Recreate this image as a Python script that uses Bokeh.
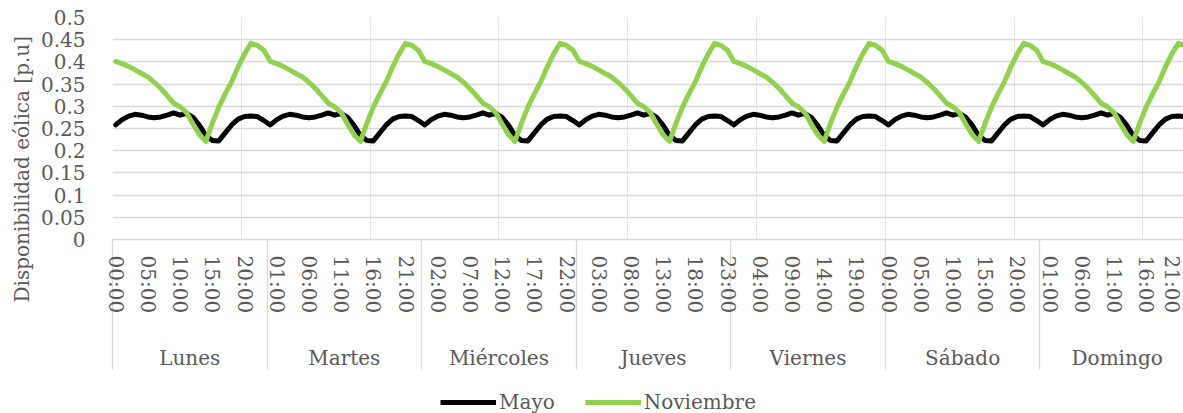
from bokeh.plotting import figure
from bokeh.layouts import column
from bokeh.models import Range1d, FixedTicker, LinearAxis, Legend, LegendItem, Title
from bokeh.embed import file_html
from bokeh.resources import INLINE

# ---------------- data ----------------
dias = ["Lunes", "Martes", "Miércoles", "Jueves", "Viernes", "Sábado", "Domingo"]

# hourly profile (00:00 .. 23:00), identical every day of the week
mayo_dia = [0.258, 0.270, 0.278, 0.282, 0.280, 0.276, 0.274, 0.276, 0.280, 0.285,
            0.280, 0.284, 0.275, 0.257, 0.234, 0.223, 0.222, 0.240, 0.258, 0.271,
            0.277, 0.278, 0.277, 0.268]
noviembre_dia = [0.401, 0.396, 0.390, 0.382, 0.374, 0.366, 0.354, 0.340, 0.324, 0.307,
                 0.299, 0.286, 0.260, 0.236, 0.221, 0.262, 0.298, 0.328, 0.355, 0.389,
                 0.418, 0.442, 0.437, 0.426]

hora_labels = ["00:00", "05:00", "10:00", "15:00", "20:00",
               "01:00", "06:00", "11:00", "16:00", "21:00",
               "02:00", "07:00", "12:00", "17:00", "22:00",
               "03:00", "08:00", "13:00", "18:00", "23:00",
               "04:00", "09:00", "14:00", "19:00",
               "00:00", "05:00", "10:00", "15:00", "20:00",
               "01:00", "06:00", "11:00", "16:00", "21:00"]

y_ticks = [0, 0.05, 0.1, 0.15, 0.2, 0.25, 0.3, 0.35, 0.4, 0.45, 0.5]
y_labels = ["0", "0.05", "0.1", "0.15", "0.2", "0.25", "0.3", "0.35", "0.4", "0.45", "0.5"]

series_names = ["Mayo", "Noviembre"]
series_colors = ["#000000", "#92d050"]

# ---------------- series ----------------
mayo = mayo_dia * len(dias)
noviembre = noviembre_dia * len(dias)
series_values = [mayo, noviembre]
n = len(mayo)
x = [i + 0.5 for i in range(n)]                     # category centres
hora_pos = [i + 0.5 for i in range(0, n, 5)][:len(hora_labels)]
sep_pos = [24 * k for k in range(len(dias) + 1)]    # day boundaries
dia_pos = [24 * k + 12 for k in range(len(dias))]   # day centres

FONT = "DejaVu Serif"
GRAY = "#595959"
GRID = "#d9d9d9"
SEP_LEN = 130
W = 1183

p = figure(width=W, height=372,
           x_range=Range1d(0, 166.3), y_range=Range1d(0, 0.5),
           output_backend="svg", toolbar_location=None,
           x_axis_location=None, y_axis_location="left",
           min_border_left=112, min_border_right=0,
           min_border_top=17, min_border_bottom=130)
p.outline_line_color = None
p.background_fill_color = "white"
p.border_fill_color = "white"

# y axis
ya = p.yaxis[0]
ya.ticker = FixedTicker(ticks=y_ticks)
ya.major_label_overrides = dict(zip(y_ticks, y_labels))
ya.major_label_text_font = FONT
ya.major_label_text_font_size = "20px"
ya.major_label_text_color = GRAY
ya.major_label_standoff = 21
ya.axis_line_color = None
ya.major_tick_line_color = None
ya.minor_tick_line_color = None
p.ygrid.ticker = FixedTicker(ticks=y_ticks)
p.ygrid.grid_line_color = GRID
p.ygrid.grid_line_width = 1.3

ytitle = Title(text="Disponibilidad eólica [p.u]", align="left", offset=-63,
               text_font=FONT, text_font_size="20px", text_font_style="normal",
               text_color=GRAY, standoff=8)
p.add_layout(ytitle, "left")

# hour axis (its long minor ticks draw the day separators)
hx = LinearAxis(ticker=FixedTicker(ticks=hora_pos, minor_ticks=sep_pos),
                major_label_overrides=dict(zip(hora_pos, hora_labels)),
                major_label_orientation="vertical",
                major_label_text_font=FONT, major_label_text_font_size="20px",
                major_label_text_color=GRAY, major_label_standoff=16 - SEP_LEN,
                axis_line_color=GRID, axis_line_width=1.3,
                major_tick_line_color=None,
                minor_tick_line_color=GRID, minor_tick_line_width=1.3,
                minor_tick_in=0, minor_tick_out=SEP_LEN)
p.add_layout(hx, "below")

# day axis
dx = LinearAxis(ticker=FixedTicker(ticks=dia_pos, minor_ticks=[]),
                major_label_overrides=dict(zip(dia_pos, dias)),
                major_label_text_font=FONT, major_label_text_font_size="20px",
                major_label_text_color=GRAY, major_label_standoff=23,
                axis_line_color=None, major_tick_line_color=None,
                minor_tick_line_color=None)
p.add_layout(dx, "below")

for vals, col in zip(series_values, series_colors):
    p.line(x, vals, line_color=col, line_width=5,
           line_join="round", line_cap="round")

# ---------------- legend strip (same series, drawn out of its view) ----------------
pl = figure(width=W, height=41, x_range=Range1d(0, 166.3), y_range=Range1d(5, 6),
            output_backend="svg", toolbar_location=None,
            x_axis_location=None, y_axis_location=None,
            min_border_left=0, min_border_right=0,
            min_border_top=0, min_border_bottom=0)
pl.outline_line_color = None
pl.grid.visible = False
items = []
for name, vals, col in zip(series_names, series_values, series_colors):
    r = pl.line(x, vals, line_color=col, line_width=5)
    items.append(LegendItem(label=name, renderers=[r]))
legend = Legend(items=items, orientation="horizontal", location=(328, -1),
                label_text_font=FONT, label_text_font_size="20px",
                label_text_color=GRAY, glyph_width=56, glyph_height=20,
                label_standoff=3, spacing=30, padding=5, margin=0,
                border_line_color=None, background_fill_alpha=0)
pl.add_layout(legend, "center")

layout = column(p, pl, spacing=0)
open("out.html", "w").write(file_html(layout, INLINE))
